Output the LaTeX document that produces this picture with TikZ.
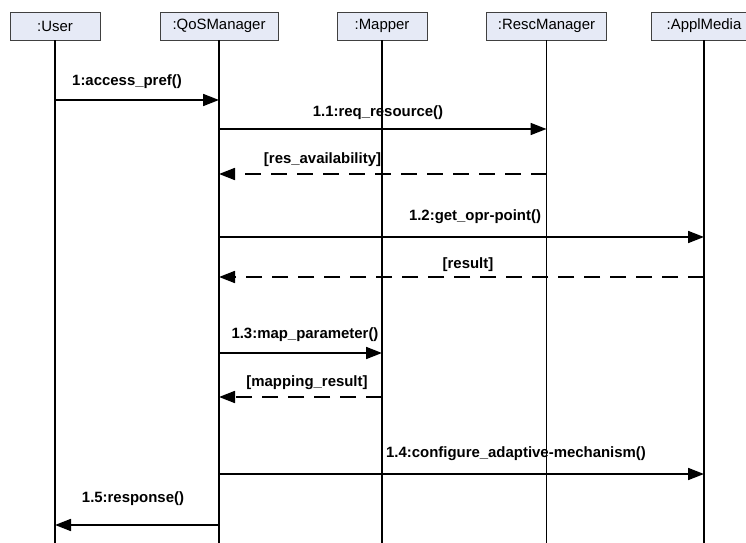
\documentclass[tikz,border=0pt]{standalone}
\usepackage{fontspec}
\setmainfont{Liberation Sans}
\usetikzlibrary{arrows.meta}
\definecolor{headfill}{RGB}{230,234,246}
\begin{document}
\begin{tikzpicture}[
    obj/.style={draw=black!75, fill=headfill, minimum height=.56cm, inner sep=0pt,
      font=\fontsize{8.5}{10}\selectfont},
    life/.style={line width=1pt},
    msg/.style={line width=1pt, -{Triangle[length=3.2mm,width=2.4mm]}},
    ret/.style={msg, dash pattern=on 3.2mm off 2mm},
    lbl/.style={inner sep=0pt, font=\bfseries\fontsize{8.5}{10}\selectfont}]
    \useasboundingbox (0,0) rectangle (14.92,-10.86);
    % objects
    \node[obj, minimum width=1.8cm] (user) at (1.1,-.52) {:User};
    \node[obj, minimum width=2.36cm] (qos) at (4.38,-.52) {:QoSManager};
    \node[obj, minimum width=1.8cm] (mapper) at (7.64,-.52) {:Mapper};
    \node[obj, minimum width=2.4cm] (resc) at (10.93,-.52) {:RescManager};
    \node[obj, minimum width=2.12cm] (appl) at (14.08,-.52) {:ApplMedia};
    % lifelines
    \coordinate (bot) at (0,-10.9);
    \draw[life] (user.south) -- (user.south |- bot);
    \draw[life] (qos.south) -- (qos.south |- bot);
    \draw[life] (mapper.south) -- (mapper.south |- bot);
    \draw[life] (resc.south) -- (resc.south |- bot);
    \draw[life] (appl.south) -- (appl.south |- bot);
    % messages
    \coordinate (m1) at (0,-2.00);
    \draw[msg] (user |- m1) -- (qos |- m1);
    \node[lbl] (l1) at (2.54,-1.64) {1:access\_pref()};
    \coordinate (m11) at (0,-2.58);
    \draw[msg] (qos |- m11) -- (resc |- m11);
    \node[lbl] (l11) at (7.56,-2.26) {1.1:req\_resource()};
    \coordinate (r1) at (0,-3.48);
    \draw[ret] (resc |- r1) -- (qos |- r1);
    \node[lbl] (lr1) at (6.45,-3.19) {[res\_availability]};
    \coordinate (m12) at (0,-4.74);
    \draw[msg] (qos |- m12) -- (appl |- m12);
    \node[lbl] (l12) at (9.50,-4.34) {1.2:get\_opr-point()};
    \coordinate (r2) at (0,-5.54);
    \draw[ret] (appl |- r2) -- (qos |- r2);
    \node[lbl] (lr2) at (9.36,-5.29) {[result]};
    \coordinate (m13) at (0,-7.06);
    \draw[msg] (qos |- m13) -- (mapper |- m13);
    \node[lbl] (l13) at (6.10,-6.70) {1.3:map\_parameter()};
    \coordinate (r3) at (0,-7.94);
    \draw[ret] (mapper |- r3) -- (qos |- r3);
    \node[lbl] (lr3) at (6.14,-7.65) {[mapping\_result]};
    \coordinate (m14) at (0,-9.48);
    \draw[msg] (qos |- m14) -- (appl |- m14);
    \node[lbl] (l14) at (10.32,-9.08) {1.4:configure\_adaptive-mechanism()};
    \coordinate (m15) at (0,-10.50);
    \draw[msg] (qos |- m15) -- (user |- m15);
    \node[lbl] (l15) at (2.66,-9.98) {1.5:response()};
\end{tikzpicture}
\end{document}
